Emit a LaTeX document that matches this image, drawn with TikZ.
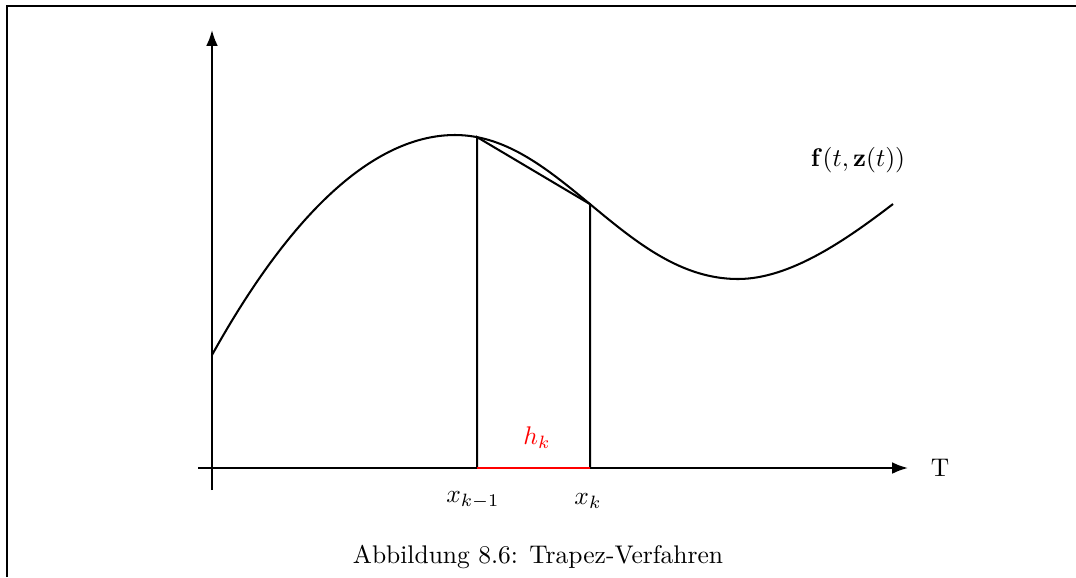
\documentclass[tikz,border=0pt]{standalone}
\usetikzlibrary{arrows.meta}
\begin{document}
\begin{tikzpicture}[x=0.392pt,y=-0.392pt,
  ln/.style={line width=0.8pt},
  axis/.style={ln,-{Latex[length=6.2pt,width=4.6pt]}},
  lbl/.style={inner sep=0pt}]
\useasboundingbox (0,0) rectangle (1076,577);
% page frame
\draw[ln] (7,577) -- (7,6) -- (1076,6);
% axes
\coordinate (O) at (212,468);
\coordinate (ybot) at (212,490);
\coordinate (ytop) at (212,30);
\coordinate (xleft) at (198,468);
\coordinate (xright) at (908,468);
\draw[axis] (ybot) -- (ytop);
\draw[axis] (xleft) -- (xright);
\node[lbl] (T) at (940,468) {T};
% curve
\draw[ln] (212,355) .. controls (306,186) and (390,135) .. (455,135)
  .. controls (560,135) and (625,279) .. coordinate[pos=0.072] (A) coordinate[pos=0.487] (B) (738,279)
  .. controls (790,279) and (846,240) .. (893,204);
% trapezoid
\coordinate (A0) at (A |- O);
\coordinate (B0) at (B |- O);
\draw[ln] (A0) -- (A) -- (B) -- (B0);
\draw[ln,red] (A0) -- (B0);
% labels
\node[lbl,red] (h) at (537,438) {$h_k$};
\node[lbl] (xa) at (473,500) {$x_{k-1}$};
\node[lbl] (xb) at (588,501) {$x_k$};
\node[lbl] (f) at (858,160) {$\mathbf{f}(t,\mathbf{z}(t))$};
\node[lbl] (cap) at (538,557) {Abbildung 8.6: Trapez-Verfahren};
\end{tikzpicture}
\end{document}
